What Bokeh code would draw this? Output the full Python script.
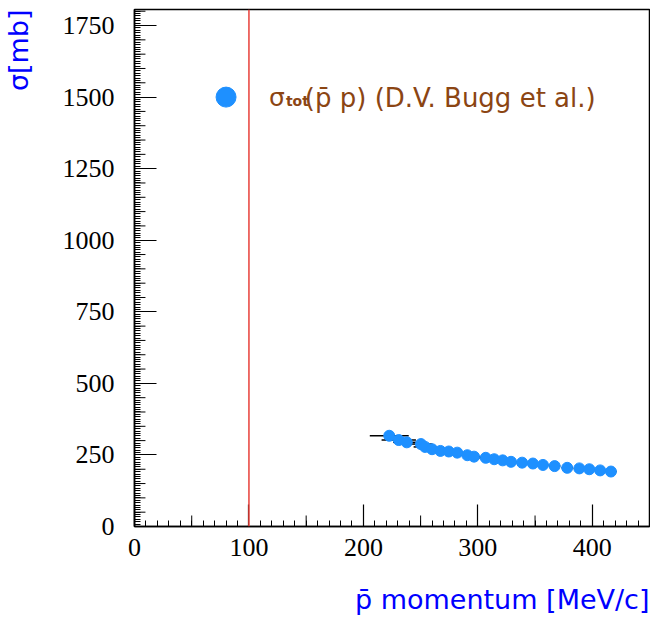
import numpy as np
from bokeh.plotting import figure
from bokeh.models import Range1d, Span, Label, SingleIntervalTicker, Title
from bokeh.embed import file_html
from bokeh.resources import INLINE

# ---- data ----
momentum = [222.6, 230.9, 237.9, 250.3, 253.9, 260.0, 267.3, 274.6, 282.0, 290.8,
            296.7, 306.9, 314.3, 321.7, 329.0, 338.7, 348.1, 356.9, 367.1, 378.1,
            388.7, 397.4, 406.9, 416.3]
sigma_tot = [317, 302, 294, 288, 278, 270, 264, 262, 258, 249,
             244, 240, 235, 231, 226, 223, 220, 215, 211, 205,
             203, 200, 196, 192]
momentum_err = [17, 15, 12, 10, 10, 8, 8, 7, 7, 6,
                6, 6, 5, 5, 5, 5, 5, 5, 5, 5,
                5, 5, 5, 5]
x_tick_step = 100
y_tick_step = 250
cut_momentum = 100
legend_key_x = [80]
legend_key_y = [1500]

# ---- layout ----
W, H = 650, 617
left, right, top, bottom = 132, 1, 9, 91
x_end, y_end = 450, 1806
frame_w = W - left - right
frame_h = H - top - bottom
px_x = frame_w / x_end
px_y = frame_h / y_end

p = figure(width=W, height=H, x_range=Range1d(0, x_end), y_range=Range1d(0, y_end),
           output_backend="svg", toolbar_location=None,
           min_border_left=left, min_border_right=right,
           min_border_top=top, min_border_bottom=bottom)
p.xgrid.visible = False
p.ygrid.visible = False
p.outline_line_color = "black"
p.outline_line_width = 1.5
p.background_fill_color = "white"
p.border_fill_color = "white"

p.xaxis.ticker = SingleIntervalTicker(interval=x_tick_step, num_minor_ticks=10)
p.yaxis.ticker = SingleIntervalTicker(interval=y_tick_step, num_minor_ticks=30)
font = "DejaVu Sans"
for ax in (p.xaxis, p.yaxis):
    ax.axis_line_color = "black"
    ax.axis_line_width = 1.5
    ax.major_tick_in = 22
    ax.major_tick_out = 0
    ax.minor_tick_in = 6
    ax.minor_tick_out = 0
    ax.major_tick_line_color = "black"
    ax.minor_tick_line_color = "black"
    ax.major_tick_line_width = 1.2
    ax.minor_tick_line_width = 1
    ax.major_label_text_font = "Liberation Serif"
    ax.major_label_text_font_size = "26px"
    ax.major_label_text_color = "black"
p.xaxis.major_label_standoff = 12
p.yaxis.major_label_standoff = 20

# spacer panels between the axes and their titles
p.add_layout(Title(text=" ", text_font_size="1px", standoff=20), "below")
p.add_layout(Title(text=" ", text_font_size="1px", standoff=23), "left")
# axis titles, right/top aligned as in the reference
p.add_layout(Title(text="p̄ momentum [MeV/c]", align="right", text_font=font,
                   text_font_size="27px", text_font_style="normal", text_color="blue",
                   standoff=0), "below")
p.add_layout(Title(text="σ[mb]", align="right", text_font=font,
                   text_font_size="27px", text_font_style="normal", text_color="blue",
                   standoff=0), "left")

# medium (secondary) ticks
x_mid = np.arange(x_tick_step / 2, x_end + 1, x_tick_step)
p.segment(x0=x_mid, x1=x_mid, y0=0, y1=11 / px_y, line_color="black", line_width=1)
y_mid = np.array([v for v in np.arange(50, y_end, 50) if v % y_tick_step != 0])
p.segment(x0=0, x1=11 / px_x, y0=y_mid, y1=y_mid, line_color="black", line_width=1)

# cut line
p.add_layout(Span(location=cut_momentum, dimension="height", line_color="#e8403a", line_width=1.5))

# data: x error bars and points
m = np.array(momentum)
e = np.array(momentum_err)
p.segment(x0=m - e, x1=m + e, y0=sigma_tot, y1=sigma_tot, line_color="black", line_width=1.5)
p.scatter(momentum, sigma_tot, size=11, fill_color="#1e90ff", line_color="#1e90ff")

# legend
p.scatter(legend_key_x, legend_key_y, size=20, fill_color="#1e90ff", line_color="#1e90ff")
brown = "#8b4513"
ly = (526 - 97) / px_y
p.add_layout(Label(x=(267 - left) / px_x, y=ly, text="σ", text_font=font,
                   text_font_size="25px", text_color=brown, text_baseline="alphabetic"))
p.add_layout(Label(x=(284 - left) / px_x, y=ly - 3 / px_y, text="tot", text_font=font,
                   text_font_size="14px", text_font_style="bold", text_color=brown,
                   text_baseline="alphabetic"))
p.add_layout(Label(x=(303 - left) / px_x, y=ly, text="(p̄ p) (D.V. Bugg et al.)", text_font=font,
                   text_font_size="26px", text_color=brown, text_baseline="alphabetic"))

open("out.html", "w").write(file_html(p, INLINE))
